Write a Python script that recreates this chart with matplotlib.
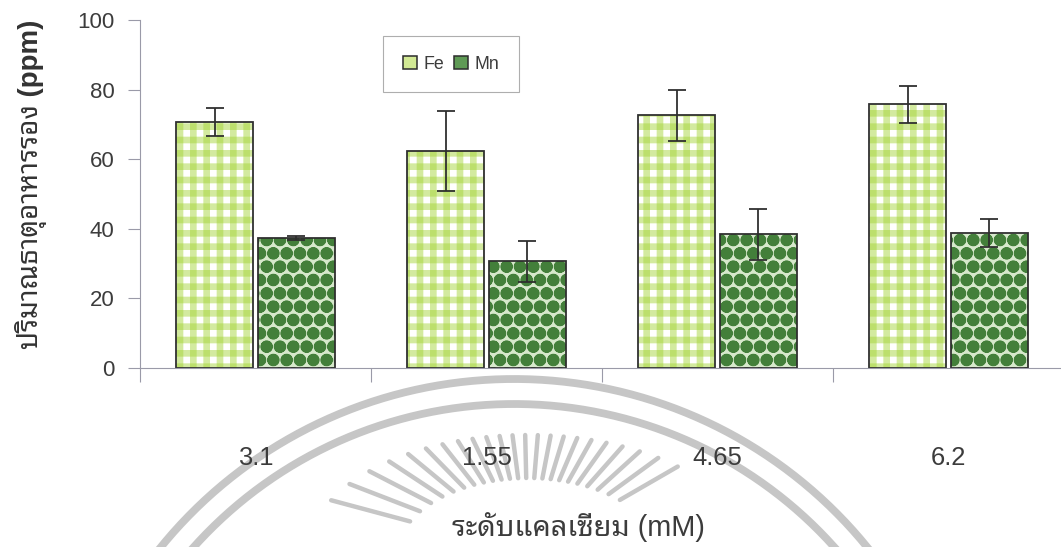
import numpy as np
import matplotlib
matplotlib.use("Agg")
import matplotlib.pyplot as plt
from matplotlib.patches import Patch

# calcium level (mM) on the x axis, in the order the treatments were laid out
calcium = ["3.1", "1.55", "4.65", "6.2"]
fe_mean = [70.7, 62.4, 72.6, 75.8]
fe_err = [3.9, 11.5, 7.3, 5.3]
mn_mean = [37.3, 30.7, 38.4, 38.9]
mn_err = [0.5, 5.9, 7.4, 4.0]

plt.rcParams['font.family'] = ['Liberation Sans', 'Noto Sans Thai Looped']

DPI = 80
fig = plt.figure(figsize=(1061 / DPI, 547 / DPI), dpi=DPI)

# faint university seal printed under the figure: double ring and a fan of rays
bg = fig.add_axes([0, 0, 1, 1], zorder=0)
bg.set_xlim(0, 1061)
bg.set_ylim(547, 0)
bg.axis('off')
seal = '#c6c6c6'
t = np.linspace(0, 2 * np.pi, 500)
for r in (455, 430):
    bg.plot(514 + r * np.cos(t), 834 + r * np.sin(t), color=seal, lw=7)


def ellipse_r(a, b, ang):
    return a * b / np.hypot(b * np.cos(ang), a * np.sin(ang))


for a in np.radians(np.linspace(30, 165, 23)):
    r1 = ellipse_r(130, 75, a)
    r2 = ellipse_r(220, 118, a)
    bg.plot([528 + r1 * np.cos(a), 528 + r2 * np.cos(a)],
            [553 - r1 * np.sin(a), 553 - r2 * np.sin(a)],
            color=seal, lw=4, solid_capstyle='round')

ax = fig.add_axes([140 / 1061, 179 / 547, 924 / 1061, 348 / 547], zorder=1)
ax.patch.set_visible(False)

x = np.arange(len(calcium))
w = 0.33
off = 0.177
fe_x = x - off
mn_x = x + off

# Fe: light yellow-green check, darker where the bands cross
band = (0.64, 0.83, 0.20, 0.47)
with plt.rc_context({'hatch.linewidth': 6.0}):
    ax.bar(fe_x, fe_mean, w, color='white', linewidth=0)
    ax.bar(fe_x, fe_mean, w, fill=False, hatch='-', edgecolor=band, linewidth=0)
    ax.bar(fe_x, fe_mean, w, fill=False, hatch='|', edgecolor=band, linewidth=0)

# Mn: dark green beads with a pale centre
with plt.rc_context({'hatch.linewidth': 2.8}):
    ax.bar(mn_x, mn_mean, w, color='#d6e8cb', hatch='O.', edgecolor='#437f3a', linewidth=0)

err_style = dict(ecolor='#2e2e2e', elinewidth=1.6, capsize=8.5, capthick=1.6)
ax.bar(fe_x, fe_mean, w, fill=False, edgecolor='#2e2e2e', linewidth=1.6,
       yerr=fe_err, error_kw=err_style)
ax.bar(mn_x, mn_mean, w, fill=False, edgecolor='#2e2e2e', linewidth=1.6,
       yerr=mn_err, error_kw=err_style)

ax.set_xlim(-0.5, 3.5)
ax.set_ylim(0, 100)
ax.set_yticks(range(0, 101, 20))
ax.set_xticks(x, calcium)
ax.set_xticks(np.arange(-0.5, 4, 1), minor=True)

axis_grey = '#9a9aa8'
for side in ('top', 'right'):
    ax.spines[side].set_visible(False)
for side in ('left', 'bottom'):
    ax.spines[side].set_color(axis_grey)
    ax.spines[side].set_linewidth(1.0)

ax.tick_params(axis='x', which='major', length=0, pad=70, labelsize=23, labelcolor='#3c3c3c')
ax.tick_params(axis='x', which='minor', length=12.6, width=1.0, color=axis_grey)
ax.tick_params(axis='y', length=11, width=1.0, pad=12, labelsize=20,
               color=axis_grey, labelcolor='#3c3c3c')

ax.set_ylabel('ปริมาณธาตุอาหารรอง (ppm)', fontsize=25, fontweight='bold', color='#333333')
ax.yaxis.set_label_coords(-0.101, 0.529)
ax.set_xlabel('ระดับแคลเซียม (mM)', fontsize=26, color='#3c3c3c', va='center')
ax.xaxis.set_label_coords(0.474, -0.457)

handles = [Patch(facecolor='#d2e994', edgecolor='#2e2e2e', linewidth=1.4, label='Fe'),
           Patch(facecolor='#5f9a55', edgecolor='#2e2e2e', linewidth=1.4, label='Mn')]
leg = ax.legend(handles=handles, loc='upper left', bbox_to_anchor=(0.263, 0.954),
                ncol=2, fontsize=16, frameon=True, fancybox=False,
                handlelength=0.8, handleheight=0.8, handletextpad=0.4,
                columnspacing=0.5, borderpad=1.1, borderaxespad=0)
leg.get_frame().set_edgecolor('#9a9a9a')
leg.get_frame().set_linewidth(1.0)
for txt in leg.get_texts():
    txt.set_color('#3c3c3c')

fig.savefig('out.png', dpi=DPI)
